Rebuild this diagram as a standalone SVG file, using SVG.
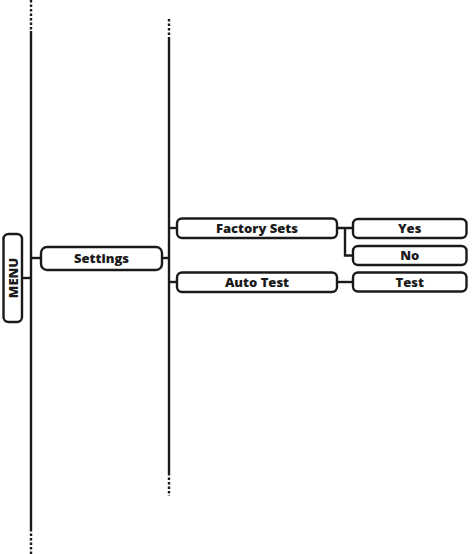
<svg xmlns="http://www.w3.org/2000/svg" width="473" height="554" viewBox="0 0 473 554">
<style>
.box{fill:#fff;stroke:#1a1a1a;stroke-width:2.4}
.ln{fill:none;stroke:#1a1a1a;stroke-width:2.4}
.dash{fill:none;stroke:#1a1a1a;stroke-width:2.4;stroke-dasharray:2.5 2}
text{font-family:"Open Sans","Liberation Sans",sans-serif;font-weight:800;font-size:13px;fill:#1a1a1a;text-anchor:middle}
</style>
<g id="connectors">
<line class="dash" x1="31" y1="0" x2="31" y2="31"/>
<line class="ln" x1="31" y1="31" x2="31" y2="529"/>
<line class="dash" x1="31" y1="529" x2="31" y2="554"/>
<line class="dash" x1="169" y1="19" x2="169" y2="37"/>
<line class="ln" x1="169" y1="37" x2="169" y2="473"/>
<line class="dash" x1="169" y1="473" x2="169" y2="496"/>
<line class="ln" x1="22" y1="278" x2="31" y2="278"/>
<line class="ln" x1="31" y1="258" x2="41" y2="258"/>
<line class="ln" x1="162" y1="258" x2="169" y2="258"/>
<line class="ln" x1="169" y1="228" x2="177" y2="228"/>
<line class="ln" x1="169" y1="282" x2="177" y2="282"/>
<path class="ln" d="M337 228 H353 M345 228 V255.5 H353"/>
<line class="ln" x1="337" y1="282" x2="353" y2="282"/>
</g>
<g id="menu">
<rect class="box" x="3.5" y="234" width="18.5" height="88" rx="5"/>
<text transform="translate(17.5 278) rotate(-90)">MENU</text>
</g>
<g id="settings">
<rect class="box" x="41" y="247" width="121" height="23" rx="6"/>
<text x="101.5" y="263">Settings</text>
</g>
<g id="factory-sets">
<rect class="box" x="177" y="218.5" width="160" height="19.5" rx="5"/>
<text x="257" y="232.8">Factory Sets</text>
</g>
<g id="auto-test">
<rect class="box" x="177" y="272.5" width="160" height="19.5" rx="5"/>
<text x="257" y="286.8">Auto Test</text>
</g>
<g id="yes">
<rect class="box" x="353" y="219" width="113.5" height="19" rx="5"/>
<text x="409.7" y="233">Yes</text>
</g>
<g id="no">
<rect class="box" x="353" y="246" width="113.5" height="19" rx="5"/>
<text x="409.7" y="260">No</text>
</g>
<g id="test">
<rect class="box" x="353" y="272.5" width="113.5" height="19" rx="5"/>
<text x="409.7" y="286.5">Test</text>
</g>
</svg>
